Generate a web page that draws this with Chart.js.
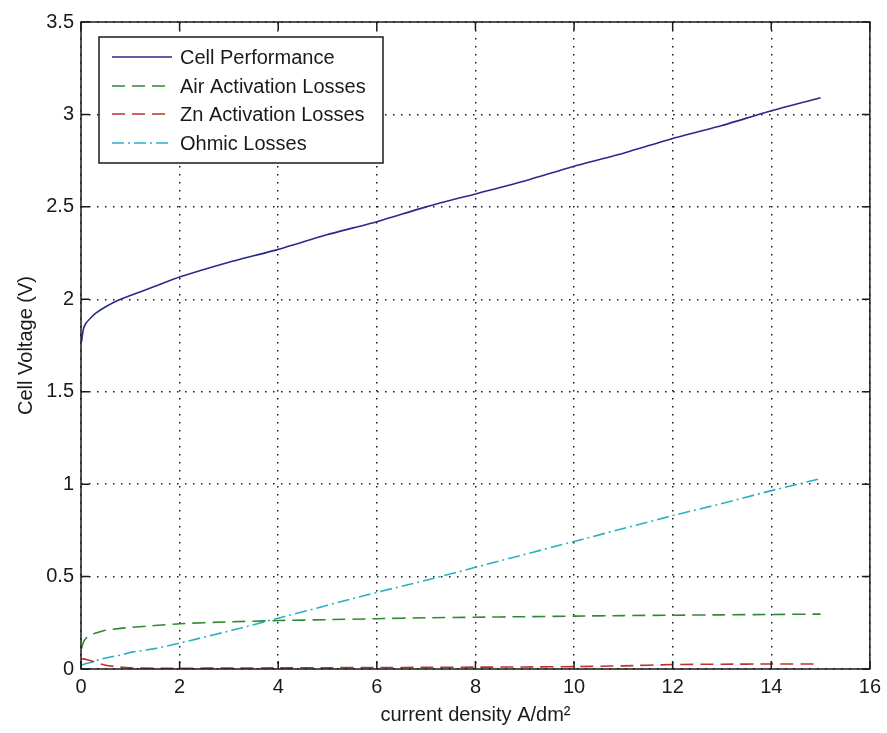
<!DOCTYPE html>
<html>
<head>
<meta charset="utf-8">
<script src="https://cdn.jsdelivr.net/npm/chart.js@4/dist/chart.umd.min.js"></script>
<style>
  html, body { margin: 0; padding: 0; background: #ffffff; }
  #wrap { width: 887px; height: 733px; position: relative; }
</style>
</head>
<body>
<div id="wrap"><canvas id="c" width="887" height="733"></canvas></div>
<script>
// ---- data ----
const currentDensity = [0.01, 0.05, 0.1, 0.2, 0.3, 0.5, 0.8, 1, 1.5, 2, 3, 4, 5, 6, 7, 8, 9, 10, 11, 12, 13, 14, 15];
const cellPerformance = [1.77, 1.84, 1.87, 1.90, 1.925, 1.96, 2.00, 2.02, 2.07, 2.12, 2.20, 2.27, 2.35, 2.42, 2.50, 2.57, 2.64, 2.72, 2.79, 2.87, 2.94, 3.02, 3.09];
const airActivation = [0.11, 0.145, 0.165, 0.185, 0.195, 0.21, 0.22, 0.225, 0.235, 0.245, 0.255, 0.262, 0.267, 0.272, 0.277, 0.280, 0.283, 0.286, 0.289, 0.291, 0.293, 0.295, 0.297];
const znActivation = [0.055, 0.055, 0.052, 0.045, 0.035, 0.02, 0.01, 0.006, 0.004, 0.004, 0.005, 0.006, 0.007, 0.008, 0.009, 0.010, 0.011, 0.013, 0.017, 0.024, 0.026, 0.027, 0.027];
const ohmicLosses = [0.02, 0.025, 0.03, 0.035, 0.045, 0.06, 0.075, 0.09, 0.11, 0.14, 0.205, 0.275, 0.345, 0.415, 0.48, 0.55, 0.62, 0.69, 0.76, 0.83, 0.895, 0.965, 1.03];
const seriesNames = ['Cell Performance', 'Air Activation Losses', 'Zn Activation Losses', 'Ohmic Losses'];
const xTicks = [0, 2, 4, 6, 8, 10, 12, 14, 16];
const yTicks = [0, 0.5, 1, 1.5, 2, 2.5, 3, 3.5];
const xTitle = 'current density A/dm\u00B2';
const yTitle = 'Cell Voltage (V)';

const FONT = '"Liberation Sans", Arial, Helvetica, sans-serif';
const pts = ys => currentDensity.map((x, i) => ({x: x, y: ys[i]}));

// frame + inward ticks + boxed legend
const matlabAxes = {
  id: 'matlabAxes',
  afterDatasetsDraw(chart) {
    const {ctx, chartArea: a, scales} = chart;
    ctx.save();
    ctx.strokeStyle = '#1a1a1a';
    ctx.lineWidth = 1.5;
    ctx.setLineDash([]);
    ctx.strokeRect(a.left, a.top, a.right - a.left, a.bottom - a.top);
    const tl = 8;
    ctx.beginPath();
    xTicks.forEach(v => {
      const px = scales.x.getPixelForValue(v);
      ctx.moveTo(px, a.bottom); ctx.lineTo(px, a.bottom - tl);
      ctx.moveTo(px, a.top); ctx.lineTo(px, a.top + tl);
    });
    yTicks.forEach(v => {
      const py = scales.y.getPixelForValue(v);
      ctx.moveTo(a.left, py); ctx.lineTo(a.left + tl, py);
      ctx.moveTo(a.right, py); ctx.lineTo(a.right - tl, py);
    });
    ctx.stroke();

    // legend box
    const bx = 99, by = 37, bw = 284, bh = 126;
    ctx.fillStyle = '#ffffff';
    ctx.fillRect(bx, by, bw, bh);
    ctx.lineWidth = 1.5;
    ctx.strokeStyle = '#1a1a1a';
    ctx.strokeRect(bx, by, bw, bh);
    const rows = [57, 86, 114, 143];
    ctx.font = '20px ' + FONT;
    ctx.textBaseline = 'middle';
    ctx.textAlign = 'left';
    chart.data.datasets.forEach((ds, i) => {
      const y = rows[i];
      ctx.beginPath();
      ctx.strokeStyle = ds.borderColor;
      ctx.lineWidth = ds.borderWidth;
      ctx.setLineDash(ds.borderDash || []);
      ctx.moveTo(112, y); ctx.lineTo(172, y);
      ctx.stroke();
      ctx.setLineDash([]);
      ctx.fillStyle = '#1a1a1a';
      ctx.fillText(ds.label, 180, y + 1);
    });
    ctx.restore();
  }
};

new Chart(document.getElementById('c'), {
  type: 'line',
  plugins: [matlabAxes],
  data: {
    datasets: [
      { label: seriesNames[0], data: pts(cellPerformance), borderColor: '#2a2a8a', borderWidth: 1.6, borderDash: [], pointRadius: 0, tension: 0.2, fill: false },
      { label: seriesNames[1], data: pts(airActivation), borderColor: '#2f8a2f', borderWidth: 1.6, borderDash: [13, 7], pointRadius: 0, tension: 0.2, fill: false },
      { label: seriesNames[2], data: pts(znActivation), borderColor: '#c0302a', borderWidth: 1.6, borderDash: [13, 7], pointRadius: 0, tension: 0.2, fill: false },
      { label: seriesNames[3], data: pts(ohmicLosses), borderColor: '#2ab0c4', borderWidth: 1.6, borderDash: [12, 4, 2, 4], pointRadius: 0, tension: 0, fill: false }
    ]
  },
  options: {
    responsive: false,
    animation: false,
    layout: { padding: { left: 0, top: 22, right: 13, bottom: 0 } },
    plugins: { legend: { display: false }, tooltip: { enabled: false } },
    scales: {
      x: {
        type: 'linear', min: 0, max: 16,
        afterBuildTicks: s => { s.ticks = xTicks.map(v => ({value: v})); },
        afterFit: s => { s.height = 64; },
        ticks: { color: '#1a1a1a', font: { family: FONT, size: 20 }, padding: 6, maxRotation: 0, autoSkip: false,
                 callback: v => String(v) },
        grid: { color: '#1a1a1a', lineWidth: 1.5, drawTicks: false },
        border: { display: false, dash: [1.5, 6.5] },
        title: { display: true, text: xTitle, color: '#1a1a1a', font: { family: FONT, size: 20 }, padding: { top: 0, bottom: 6 } }
      },
      y: {
        type: 'linear', min: 0, max: 3.5,
        afterBuildTicks: s => { s.ticks = yTicks.map(v => ({value: v})); },
        afterFit: s => { s.width = 81; },
        ticks: { color: '#1a1a1a', font: { family: FONT, size: 20 }, padding: 7, autoSkip: false,
                 callback: v => String(v) },
        grid: { color: '#1a1a1a', lineWidth: 1.5, drawTicks: false },
        border: { display: false, dash: [1.5, 6.5] },
        title: { display: true, text: yTitle, color: '#1a1a1a', font: { family: FONT, size: 20 }, padding: { top: 14, bottom: 0 } }
      }
    }
  }
});
</script>
</body>
</html>
